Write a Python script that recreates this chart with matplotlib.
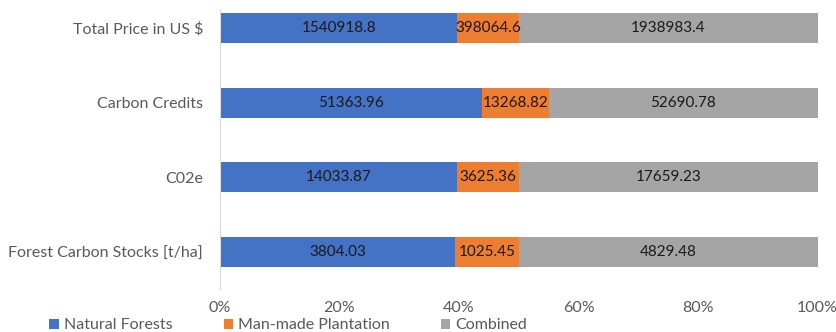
import numpy as np
import matplotlib.pyplot as plt

plt.rcParams['font.family'] = ['Lato', 'DejaVu Sans']

# Datos (de abajo hacia arriba)
categorias = ['Forest Carbon Stocks [t/ha]', 'C02e', 'Carbon Credits', 'Total Price in US $']
natural = [3804.03, 14033.87, 51363.96, 1540918.8]
plantacion = [1025.45, 3625.36, 13268.82, 398064.6]
combinado = [4829.48, 17659.23, 52690.78, 1938983.4]
etiquetas = ['Natural Forests', 'Man-made Plantation', 'Combined']
ticks_x = [0, 20, 40, 60, 80, 100]

colores = ['#4472C4', '#ED7D31', '#A5A5A5']

fig = plt.figure(figsize=(8.36, 3.32), dpi=100)
ax = fig.add_axes([0.263, 0.13, 0.715, 0.843])

series = [np.array(natural), np.array(plantacion), np.array(combinado)]
total = series[0] + series[1] + series[2]
y = np.arange(len(categorias))
izquierda = np.zeros(len(categorias))

for valores, color, nombre in zip(series, colores, etiquetas):
    pct = valores / total * 100
    ax.barh(y, pct, left=izquierda, height=0.4, color=color, label=nombre)
    for yi, l, w, v in zip(y, izquierda, pct, valores):
        texto = f'{v:.2f}' if v < 100000 else f'{v:.1f}'
        ax.text(l + w / 2, yi, texto, ha='center', va='center',
                fontsize=11, color='#1a1a1a')
    izquierda = izquierda + pct

ax.set_xlim(0, 100)
ax.set_ylim(-0.495, 3.254)
ax.set_yticks(y)
ax.set_yticklabels(categorias, fontsize=11.5, color='#595959')
ax.set_xticks(ticks_x)
ax.set_xticklabels([f'{t}%' for t in ticks_x], fontsize=11.5, color='#595959')
ax.tick_params(length=0)
ax.tick_params(axis='y', pad=12)
ax.tick_params(axis='x', pad=9)

for s in ['top', 'right', 'bottom']:
    ax.spines[s].set_visible(False)
ax.spines['left'].set_color('#D9D9D9')

fig.legend(loc='lower left', bbox_to_anchor=(0.042, -0.044), ncol=3, frameon=False,
           fontsize=11.5, handlelength=0.6, handleheight=0.6, handletextpad=0.3,
           columnspacing=3.2, labelcolor='#595959')

fig.savefig('out.png', dpi=100)
